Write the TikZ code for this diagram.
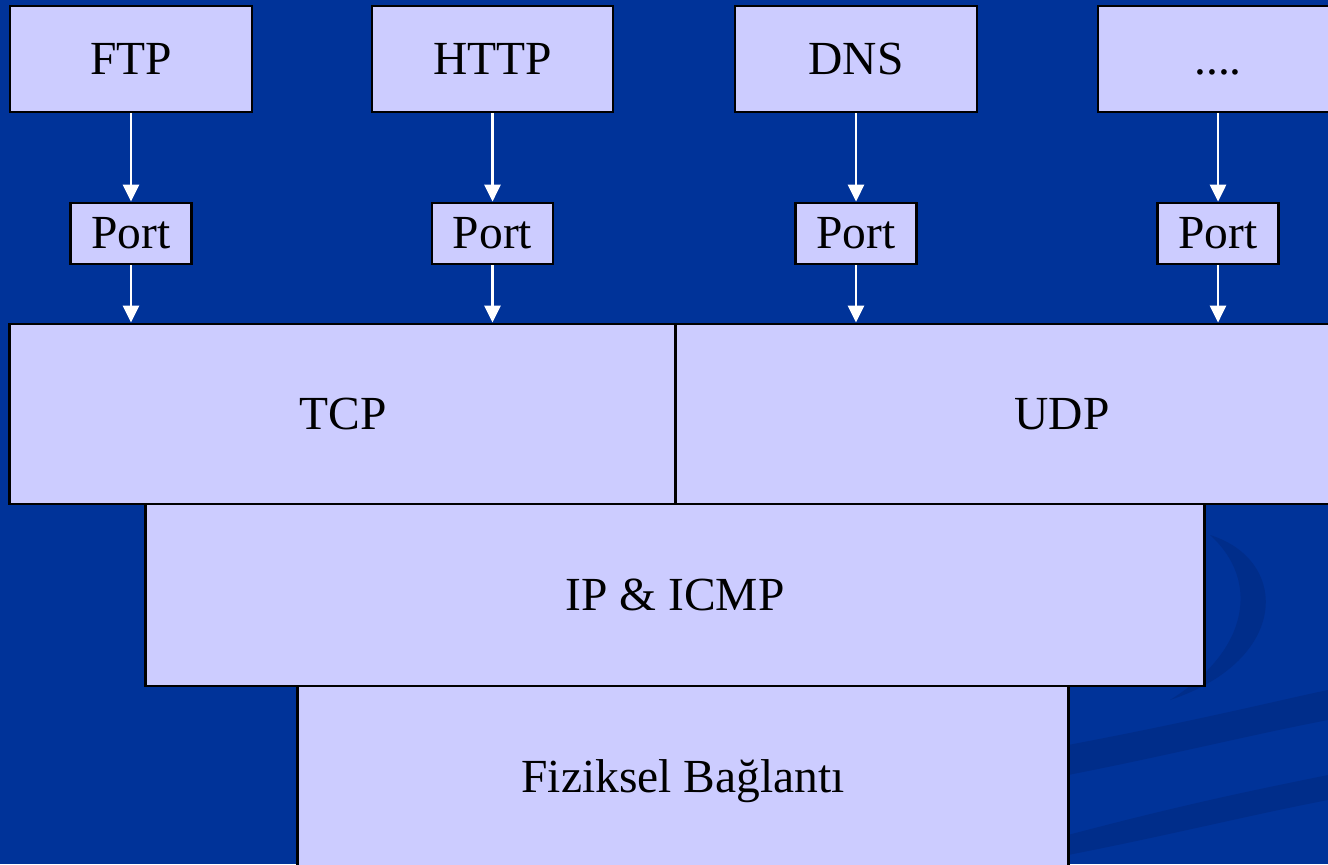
\documentclass[tikz,border=0pt]{standalone}
\usepackage{fontspec}
\setmainfont{Liberation Serif}
\usetikzlibrary{arrows.meta}
\definecolor{bgblue}{RGB}{0,51,153}
\definecolor{bgdark}{RGB}{0,45,138}
\definecolor{boxfill}{RGB}{204,204,255}
\tikzset{
    layer/.style={draw=black, line width=0.8pt, fill=boxfill, inner sep=0pt,
        font=\fontsize{13.5}{16}\selectfont},
    flow/.style={draw=white, line width=0.6pt, -{Triangle[width=4.6pt,length=4.8pt]}}
}
\begin{document}
\begin{tikzpicture}[x=0.01cm, y=-0.01cm]
    \useasboundingbox (0,0) rectangle (1328,864);
    \clip (0,0) rectangle (1328,864);
    \fill[bgblue] (0,0) rectangle (1328,864);
    % background swooshes
    \fill[bgdark] (1210,535) .. controls (1290,560) and (1290,660) .. (1170,700)
        .. controls (1250,650) and (1260,580) .. (1210,535);
    \fill[bgdark] (1068,745) .. controls (1200,720) and (1280,700) .. (1328,690)
        -- (1328,720) .. controls (1250,735) and (1170,755) .. (1068,775);
    \fill[bgdark] (1068,835) .. controls (1200,800) and (1280,785) .. (1328,775)
        -- (1328,800) .. controls (1250,815) and (1170,835) .. (1068,855);

    % applications
    \node[layer, minimum width=2.42cm, minimum height=1.06cm] (ftp) at (131,59) {FTP};
    \node[layer, minimum width=2.41cm, minimum height=1.06cm] (http) at (492.5,59) {HTTP};
    \node[layer, minimum width=2.42cm, minimum height=1.06cm] (dns) at (856,59) {DNS};
    \node[layer, minimum width=2.40cm, minimum height=1.06cm] (other) at (1218,59) {\vphantom{P}....};

    % ports
    \node[layer, minimum width=1.21cm, minimum height=0.61cm] (port1) at (131,233.5) {Port};
    \node[layer, minimum width=1.21cm, minimum height=0.61cm] (port2) at (492.5,233.5) {Port};
    \node[layer, minimum width=1.21cm, minimum height=0.61cm] (port3) at (856,233.5) {Port};
    \node[layer, minimum width=1.21cm, minimum height=0.61cm] (port4) at (1218,233.5) {Port};

    % transport, network, physical
    \node[layer, minimum width=6.66cm, minimum height=1.80cm] (tcp) at (343,414) {TCP};
    \node[layer, minimum width=7.72cm, minimum height=1.80cm] (udp) at (1062,414) {UDP};
    \node[layer, minimum width=10.58cm, minimum height=1.82cm] (ip) at (675,595) {IP \& ICMP};
    \node[layer, minimum width=7.70cm, minimum height=1.90cm] (phy) at (683,781) {Fiziksel Bağlantı};

    \draw[flow] (ftp) -- (port1);
    \draw[flow] (http) -- (port2);
    \draw[flow] (dns) -- (port3);
    \draw[flow] (other) -- (port4);
    \draw[flow] (port1.south) -- (port1.south |- tcp.north);
    \draw[flow] (port2.south) -- (port2.south |- tcp.north);
    \draw[flow] (port3.south) -- (port3.south |- udp.north);
    \draw[flow] (port4.south) -- (port4.south |- udp.north);
\end{tikzpicture}
\end{document}
